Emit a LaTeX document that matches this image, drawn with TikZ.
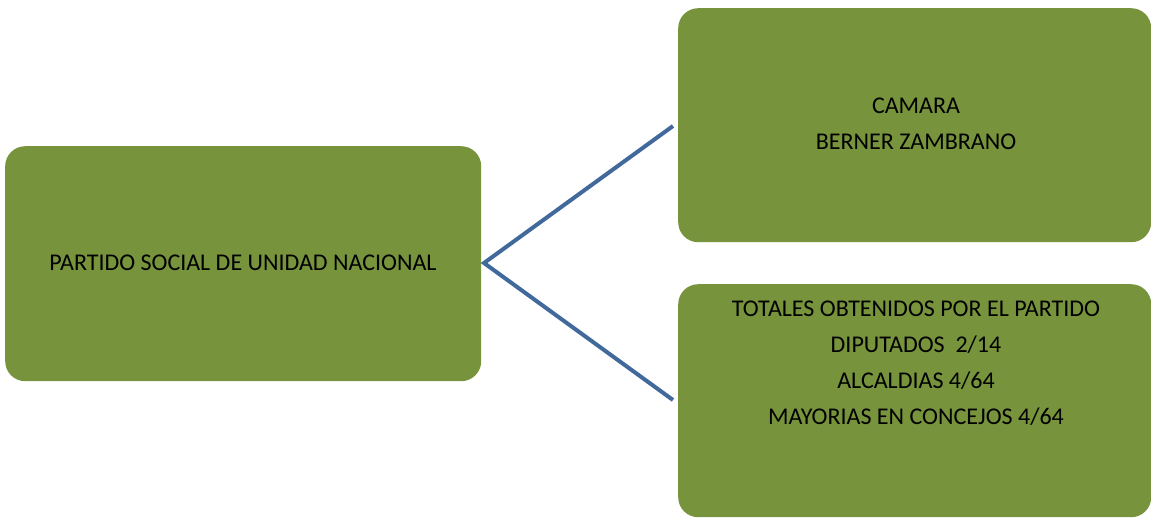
\documentclass[tikz,border=0pt]{standalone}
\usepackage{fontspec}
\setmainfont{Carlito}
\definecolor{boxgreen}{HTML}{77933C}
\definecolor{linkblue}{HTML}{41699C}
\begin{document}
\begin{tikzpicture}[x=1pt,y=-1pt,
  greenbox/.style={fill=boxgreen, draw=none, rounded corners=20pt, inner sep=0pt, anchor=north west},
  boxtext/.style={font=\fontsize{24}{36}\selectfont, align=center, text=black, inner sep=0pt},
  link/.style={draw=linkblue, line width=4pt}]
\useasboundingbox (0,0) rectangle (1151,517);
\node[greenbox, minimum width=476pt, minimum height=235pt] (left) at (5,146) {};
\node[greenbox, minimum width=473pt, minimum height=234pt] (top) at (678,8) {};
\node[greenbox, minimum width=473pt, minimum height=233pt] (bot) at (678,284) {};
\node[boxtext] (lt) at (243,263) {PARTIDO SOCIAL DE UNIDAD NACIONAL};
\node[boxtext] (tt) at (916,124) {CAMARA\\BERNER ZAMBRANO};
\node[boxtext] (bt) at (916,363) {TOTALES OBTENIDOS POR EL PARTIDO\\DIPUTADOS\ \ 2/14\\ALCALDIAS 4/64\\MAYORIAS EN CONCEJOS 4/64};
\coordinate (hub) at (484,263);
\coordinate (tend) at (673,126);
\coordinate (bend) at (673,400);
\draw[link] (tend) -- (hub) -- (bend);
\end{tikzpicture}
\end{document}
